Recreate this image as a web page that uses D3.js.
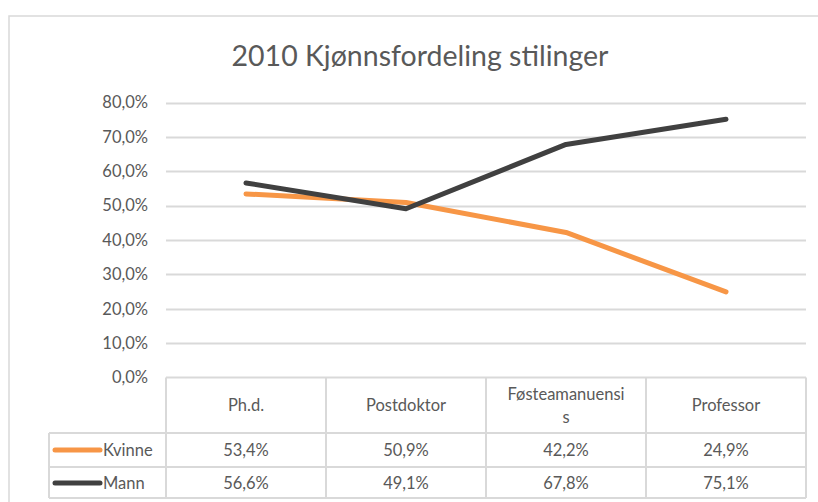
<!DOCTYPE html>
<html><head><meta charset="utf-8">
<script src="https://cdn.jsdelivr.net/npm/d3@7"></script>
<style>
html,body{margin:0;padding:0;background:#fff;}
svg{display:block;font-family:Lato,"Open Sans",sans-serif;}
</style></head>
<body>
<svg id="c" width="818" height="502"></svg>
<script>
const categories = ["Ph.d.", "Postdoktor", "Føsteamanuensis", "Professor"];
const headerLines = [["Ph.d."], ["Postdoktor"], ["Føsteamanuensi", "s"], ["Professor"]];
const kvinne = [0.534, 0.509, 0.422, 0.249];
const mann = [0.566, 0.491, 0.678, 0.751];
const yTicks = [0, 0.1, 0.2, 0.3, 0.4, 0.5, 0.6, 0.7, 0.8];
const seriesNames = ["Kvinne", "Mann"];
const title = "2010 Kjønnsfordeling stilinger";

const colors = {Kvinne: "#F79646", Mann: "#404040"};
const textCol = "#595959", gridCol = "#D9D9D9";
const fs = 16.5;

const svg = d3.select("#c");
const locale = d3.formatLocale({decimal: ",", thousands: " ", grouping: [3], currency: ["", " kr"]});
const pct = locale.format(".1%");

// chart frame
svg.append("rect").attr("x", 9).attr("y", 16).attr("width", 830).attr("height", 520)
  .attr("fill", "#fff").attr("stroke", gridCol).attr("stroke-width", 1.5);

svg.append("text").attr("x", 420).attr("y", 66).attr("text-anchor", "middle")
  .attr("font-size", 28.5).attr("fill", textCol).text(title);

const x = d3.scaleBand().domain(categories).range([166, 806]);
const y = d3.scaleLinear().domain([0, 0.8]).range([377.5, 102.5]);

// gridlines
svg.append("g").selectAll("line").data(yTicks.slice(1)).join("line")
  .attr("x1", 166).attr("x2", 806).attr("y1", d => Math.round(y(d)) + 0.5).attr("y2", d => Math.round(y(d)) + 0.5)
  .attr("stroke", gridCol).attr("stroke-width", 2);

// y axis labels
const yAxis = d3.axisLeft(y).tickValues(yTicks).tickFormat(pct).tickSize(0).tickPadding(0);
const ga = svg.append("g").attr("transform", "translate(148,0)").call(yAxis);
ga.select(".domain").remove();
ga.selectAll("text").attr("font-size", fs).attr("fill", textCol).attr("font-family", "Lato,sans-serif");

// lines
const line = d3.line().x((d, i) => x(categories[i]) + x.bandwidth() / 2).y(d => y(d));
[kvinne, mann].forEach((s, k) => {
  svg.append("path").datum(s).attr("d", line).attr("fill", "none")
    .attr("stroke", colors[seriesNames[k]]).attr("stroke-width", 5)
    .attr("stroke-linecap", "round").attr("stroke-linejoin", "round");
});

// data table
const tTop = 377.5, hdrBot = 433, r1Bot = 467, r2Bot = 498, legL = 49;
const tg = svg.append("g");
const hl = (x1, x2, yy) => tg.append("line").attr("x1", x1).attr("x2", x2).attr("y1", yy).attr("y2", yy).attr("stroke", gridCol).attr("stroke-width", 2);
const vl = (xx, y1, y2) => tg.append("line").attr("x1", xx).attr("x2", xx).attr("y1", y1).attr("y2", y2).attr("stroke", gridCol).attr("stroke-width", 2);
hl(166, 806, tTop);
hl(legL, 806, hdrBot);
hl(legL, 806, r1Bot);
hl(legL, 806, r2Bot);
vl(legL, hdrBot, r2Bot);
categories.forEach(c => vl(x(c), tTop, r2Bot));
vl(806, tTop, r2Bot);

// header
categories.forEach((c, i) => {
  const lines = headerLines[i];
  const cx = x(c) + x.bandwidth() / 2;
  const t = tg.append("text").attr("text-anchor", "middle").attr("font-size", fs).attr("fill", textCol);
  if (lines.length === 1) {
    t.attr("x", cx).attr("y", 411).text(lines[0]);
  } else {
    lines.forEach((l, j) => t.append("tspan").attr("x", cx).attr("y", 400 + j * 23).text(l));
  }
});

// rows
[kvinne, mann].forEach((s, k) => {
  const yy = k === 0 ? 456 : 489;
  const ly = k === 0 ? 450 : 483;
  tg.append("line").attr("x1", 55).attr("x2", 100).attr("y1", ly).attr("y2", ly)
    .attr("stroke", colors[seriesNames[k]]).attr("stroke-width", 5).attr("stroke-linecap", "round");
  tg.append("text").attr("x", 103).attr("y", yy).attr("font-size", fs).attr("fill", textCol).text(seriesNames[k]);
  s.forEach((v, i) => {
    tg.append("text").attr("x", x(categories[i]) + x.bandwidth() / 2).attr("y", yy)
      .attr("text-anchor", "middle").attr("font-size", fs).attr("fill", textCol).text(pct(v));
  });
});
</script>
</body></html>
